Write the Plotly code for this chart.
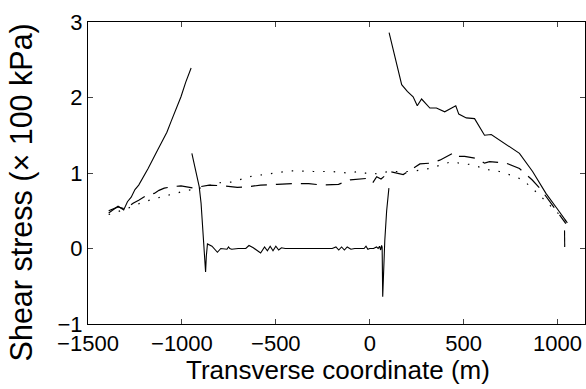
import plotly.graph_objects as go

# Solid line segments (None separates pieces)
solid_x = [-1390, -1340, -1310, -1290, -1270, -1250, -1230, -1180, -1130, -1080, -1058, -1030, -1005, -980, -951, None,
           -947, -926, -908, -898, -890, -884, -878, -874, -870, -866,
           -864, -840, -811, -793, -760, -752, -745, -735, -700, -660, -643, -620, -600, -581, -560, -545, -530, -515,
           -500, -485, -470, -450, -400, -350, -300, -250, -200, -180, -165, -150, -135, -120, -100, -80, -50, -30,
           -20, -10, 0, 20, 36, 45, 52, 58, 63, 66, 69, 72, 80, 90, 102, None,
           103, 125, 150, 170, 200, 231, 253, 276, 320, 355, 399, 458, 474, 514, 558, 611, 647, 708, 797, 867, 938,
           1000, 1052, None,
           1037, 1038]
solid_y = [0.47, 0.56, 0.51, 0.62, 0.68, 0.78, 0.84, 1.06, 1.30, 1.54, 1.68, 1.85, 2.01, 2.20, 2.39, None,
           1.26, 1.04, 0.82, 0.60, 0.33, 0.10, -0.15, -0.31, -0.10, 0.06,
           0.06, 0.03, -0.05, 0.00, -0.01, 0.02, 0.00, -0.01, 0.00, 0.00, 0.04, 0.01, -0.02, -0.06, 0.02, -0.03,
           0.03, -0.03, 0.03, -0.02, 0.01, 0.00, 0.00, 0.00, 0.00, 0.00, 0.00, 0.02, -0.02, 0.02, -0.02, 0.02,
           -0.01, 0.00, 0.00, 0.00, 0.03, -0.01, 0.00, 0.00, 0.02, 0.00, 0.03, -0.02, 0.04, 0.02, -0.64, -0.33,
           0.10, 0.50, 0.80, None,
           2.86, 2.62, 2.35, 2.17, 2.08, 2.01, 1.89, 1.98, 1.86, 1.86, 1.81, 1.89, 1.78, 1.73, 1.72, 1.50, 1.51,
           1.41, 1.26, 1.02, 0.73, 0.52, 0.34, None,
           0.24, 0.02]

# Dashed line
dash_x = [-1390, -1340, -1300, -1260, -1230, -1190, -1147, -1122, -1094, -1050, -1005, -935, -900, -855, -776,
          -705, -640, -581, -493, -413, -325, -254, -166, -104, -8, 16, 37, 60, 108, 178, 267, 320, 373, 449, 467,
          505, 576, 611, 638, 726, 797, 864, 912, 991, 1044]
dash_y = [0.50, 0.55, 0.52, 0.60, 0.64, 0.70, 0.73, 0.77, 0.80, 0.82, 0.83, 0.80, 0.82, 0.84, 0.83, 0.81,
          0.82, 0.84, 0.85, 0.86, 0.86, 0.84, 0.85, 0.91, 0.93, 0.87, 0.95, 0.92, 1.02, 0.98, 1.12, 1.13, 1.17,
          1.27, 1.22, 1.22, 1.19, 1.13, 1.15, 1.13, 1.06, 0.91, 0.78, 0.51, 0.33]

# Dotted line
dot_x = [-1390, -1300, -1254, -1200, -1100, -1037, -970, -917, -805, -735, -625, -500, -422, -300, -200, -122,
         -51, 2, 51, 108, 223, 320, 382, 435, 479, 541, 638, 691, 753, 815, 903, 956, 1009, 1050]
dot_y = [0.45, 0.52, 0.57, 0.62, 0.69, 0.73, 0.77, 0.79, 0.87, 0.88, 0.96, 1.00, 1.03, 1.02, 1.02, 1.00,
         1.02, 0.98, 1.00, 1.02, 1.02, 1.06, 1.11, 1.15, 1.13, 1.11, 1.04, 1.02, 0.97, 0.91, 0.71, 0.58, 0.44,
         0.35]

x_ticks = [-1500, -1000, -500, 0, 500, 1000]
y_ticks = [-1, 0, 1, 2, 3]
x_title = "Transverse coordinate (m)"
y_title = "Shear stress (× 100 kPa)"

fig = go.Figure()
fig.add_trace(go.Scatter(x=dot_x, y=dot_y, mode="lines",
                         line=dict(color="black", width=1.2, dash="1.5px,9px"), showlegend=False))
fig.add_trace(go.Scatter(x=dash_x, y=dash_y, mode="lines",
                         line=dict(color="black", width=1.2, dash="16px,9px"), showlegend=False))
fig.add_trace(go.Scatter(x=solid_x, y=solid_y, mode="lines", connectgaps=False,
                         line=dict(color="black", width=1.1), showlegend=False))

font_family = "Liberation Sans, Arial, sans-serif"
fig.update_layout(
    width=586, height=389,
    margin=dict(l=88, r=1, t=22, b=65),
    paper_bgcolor="white", plot_bgcolor="white",
    font=dict(family=font_family, color="black", size=22),
    xaxis=dict(range=[-1500, 1146], tickvals=x_ticks, ticks="inside", ticklen=5,
               showline=True, linecolor="black", linewidth=1, mirror="ticks",
               showgrid=False, zeroline=False, tickfont=dict(size=22)),
    yaxis=dict(range=[-1, 3], tickvals=y_ticks, ticks="inside", ticklen=5,
               showline=True, linecolor="black", linewidth=1, mirror="ticks",
               showgrid=False, zeroline=False, tickfont=dict(size=22)),
    annotations=[
        dict(text=x_title, xref="paper", yref="paper", x=0.504, y=-0.152,
             xanchor="center", yanchor="middle", showarrow=False, font=dict(size=26)),
        dict(text=y_title, xref="paper", yref="paper", x=-0.134, y=0.437, textangle=-90,
             xanchor="center", yanchor="middle", showarrow=False, font=dict(size=30.5)),
    ],
)
fig.write_html("out.html")
